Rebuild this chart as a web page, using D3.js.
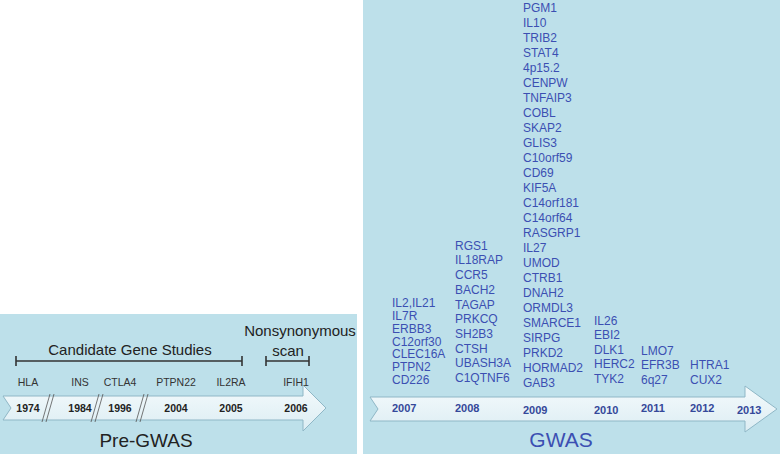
<!DOCTYPE html>
<html><head><meta charset="utf-8">
<script src="https://cdn.jsdelivr.net/npm/d3@7"></script>
<style>body{margin:0;background:#fff}svg{display:block;font-family:"Liberation Sans",Arial,sans-serif}</style>
</head><body><svg id="c" width="780" height="454"></svg>
<script>
// pre-GWAS data
const preYears = ["1974", "1984", "1996", "2004", "2005", "2006"];
const preGenes = ["HLA", "INS", "CTLA4", "PTPN22", "IL2RA", "IFIH1"];
const preX = [20, 72, 112, 168, 223, 288];
// GWAS data
const gwasYears = ["2007", "2008", "2009", "2010", "2011", "2012", "2013"];
const gwasX = [392, 455, 523, 594, 641, 690, 737];
const gwasGenes = [
  ["IL2,IL21", "IL7R", "ERBB3", "C12orf30", "CLEC16A", "PTPN2", "CD226"],
  ["RGS1", "IL18RAP", "CCR5", "BACH2", "TAGAP", "PRKCQ", "SH2B3", "CTSH", "UBASH3A", "C1QTNF6"],
  ["PGM1", "IL10", "TRIB2", "STAT4", "4p15.2", "CENPW", "TNFAIP3", "COBL", "SKAP2", "GLIS3", "C10orf59", "CD69", "KIF5A", "C14orf181", "C14orf64", "RASGRP1", "IL27", "UMOD", "CTRB1", "DNAH2", "ORMDL3", "SMARCE1", "SIRPG", "PRKD2", "HORMAD2", "GAB3"],
  ["IL26", "EBI2", "DLK1", "HERC2", "TYK2"],
  ["LMO7", "EFR3B", "6q27"],
  ["HTRA1", "CUX2"],
  []
];
const gwasBottom = [380, 378, 383, 379, 380, 380, 380];
const gwasStep = [12.8, 14.7, 15, 14.6, 14.6, 14.6, 14.6];

const svg = d3.select("#c");
const defs = svg.append("defs");
const gr = defs.append("linearGradient").attr("id", "ag").attr("x1", 0).attr("y1", 0).attr("x2", 0).attr("y2", 1);
gr.append("stop").attr("offset", 0).attr("stop-color", "#f4fafc");
gr.append("stop").attr("offset", 1).attr("stop-color", "#dcedf3");

const bg = "#bde0ea";
svg.append("rect").attr("x", 0).attr("y", 314).attr("width", 357).attr("height", 140).attr("fill", bg);
svg.append("rect").attr("x", 363).attr("y", 0).attr("width", 417).attr("height", 454).attr("fill", bg);

function arrow(x0, x1, headX, yc) {
  const pts = [[x0, yc - 12], [headX, yc - 12], [headX, yc - 23], [x1, yc], [headX, yc + 23], [headX, yc + 12], [x0, yc + 12], [x0 + 8, yc]];
  svg.append("path").attr("d", d3.line()(pts) + "Z").attr("fill", "url(#ag)").attr("stroke", "#8fb7c6").attr("stroke-width", 1);
}
arrow(3, 326, 303, 408);
arrow(370, 777, 745, 409);

// slashes between years
[48, 97, 142].forEach(x => {
  [-2, 2].forEach(d => svg.append("line").attr("x1", x + d + 4).attr("y1", 394).attr("x2", x + d - 4).attr("y2", 422).attr("stroke", "#555").attr("stroke-width", 0.8));
});

// brackets
function bracket(a, b, y) {
  const g = svg.append("g").attr("stroke", "#333").attr("stroke-width", 1.6);
  g.append("line").attr("x1", a).attr("x2", b).attr("y1", y).attr("y2", y);
  g.append("line").attr("x1", a).attr("x2", a).attr("y1", y - 5).attr("y2", y + 5);
  g.append("line").attr("x1", b).attr("x2", b).attr("y1", y - 5).attr("y2", y + 5);
}
bracket(16, 242, 361);
bracket(266, 309, 361);
svg.append("text").attr("x", 130).attr("y", 355).attr("text-anchor", "middle").attr("font-size", 15).attr("fill", "#222").text("Candidate Gene Studies");
svg.append("text").attr("x", 300).attr("y", 336).attr("text-anchor", "middle").attr("font-size", 15).attr("fill", "#222").text("Nonsynonymous");
svg.append("text").attr("x", 288).attr("y", 356).attr("text-anchor", "middle").attr("font-size", 15).attr("fill", "#222").text("scan");

svg.selectAll(".pg").data(preGenes).join("text").attr("x", (d, i) => preX[i] + 8).attr("y", 386)
  .attr("text-anchor", "middle").attr("font-size", 10.5).attr("fill", "#333").text(d => d);
svg.selectAll(".py").data(preYears).join("text").attr("x", (d, i) => preX[i] + 8).attr("y", 412)
  .attr("text-anchor", "middle").attr("font-size", 10.5).attr("font-weight", "bold").attr("fill", "#222").text(d => d);
svg.append("text").attr("x", 146).attr("y", 447).attr("text-anchor", "middle").attr("font-size", 19).attr("fill", "#222").text("Pre-GWAS");

// GWAS columns
const blue = "#3b4fb2";
gwasGenes.forEach((col, i) => {
  const n = col.length;
  svg.selectAll(null).data(col).join("text")
    .attr("x", gwasX[i]).attr("y", (d, j) => gwasBottom[i] + 4 - (n - 1 - j) * gwasStep[i])
    .attr("font-size", 12).attr("fill", blue).text(d => d);
});
svg.selectAll(".gy").data(gwasYears).join("text").attr("x", (d, i) => gwasX[i]).attr("y", (d, i) => i === 2 || i === 3 || i === 6 ? 414 : 412)
  .attr("font-size", 11).attr("font-weight", "bold").attr("fill", "#34489a").text(d => d);
svg.append("text").attr("x", 561).attr("y", 447).attr("text-anchor", "middle").attr("font-size", 21).attr("fill", blue).text("GWAS");
</script></body></html>
